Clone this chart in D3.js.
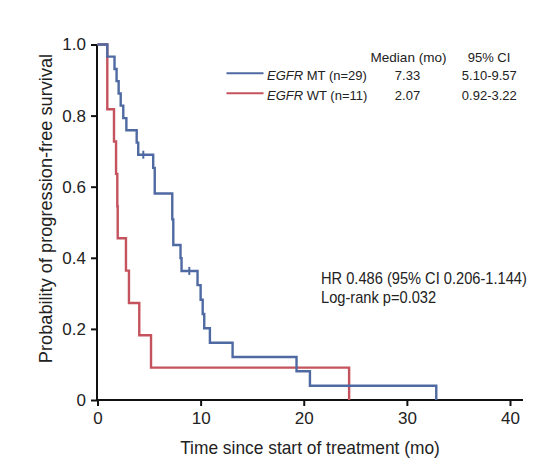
<!DOCTYPE html>
<html><head><meta charset="utf-8">
<script src="https://cdn.jsdelivr.net/npm/d3@7/dist/d3.min.js"></script>
<style>body{margin:0;background:#fff}svg{display:block}text{font-family:"Liberation Sans",Arial,sans-serif;fill:#222}</style>
</head><body><svg id="c" width="551" height="469"></svg>
<script>
// ---- data ----
const mtTimes = [0, 0.95, 1.65, 1.85, 2.05, 2.25, 2.5, 2.8, 3.8, 3.95, 5.4, 5.55, 7.25, 7.35, 8.05, 8.15, 9.7, 10.0, 10.2, 10.35, 10.9, 13.1, 19.3, 20.6, 32.85];
const mtSurv  = [1, 0.966, 0.931, 0.897, 0.862, 0.828, 0.793, 0.759, 0.724, 0.690, 0.653, 0.581, 0.508, 0.436, 0.399, 0.363, 0.323, 0.282, 0.242, 0.202, 0.161, 0.121, 0.081, 0.040, 0];
const mtCensorTimes = [4.44, 8.9];
const mtCensorSurv  = [0.690, 0.363];
const wtTimes = [0, 0.95, 1.6, 1.8, 1.92, 1.96, 2.76, 3.05, 4.05, 5.19, 24.4];
const wtSurv  = [1, 0.818, 0.727, 0.636, 0.545, 0.455, 0.364, 0.273, 0.182, 0.091, 0];
const xTicks = [0, 10, 20, 30, 40];
const yTicks = [0, 0.2, 0.4, 0.6, 0.8, 1.0];
const yTickLabels = ["0", "0.2", "0.4", "0.6", "0.8", "1.0"];
const legendGroups = ["MT (n=29)", "WT (n=11)"];
const legendMedian = ["7.33", "2.07"];
const legendCI = ["5.10-9.57", "0.92-3.22"];
const colors = ["#4f6aa2", "#c4535d"];
const statLines = ["HR 0.486 (95% CI 0.206-1.144)", "Log-rank p=0.032"];

const svg = d3.select("#c");
const x = d3.scaleLinear().domain([0, 40]).range([97.5, 510]);
const y = d3.scaleLinear().domain([0, 1]).range([400, 44.5]);

function txt(g, px, py, s, size, anchor, sx) {
  return g.append("text")
    .attr("transform", `translate(${px},${py}) scale(${sx || 1},1)`)
    .attr("text-anchor", anchor || "start")
    .style("font-size", size + "px")
    .text(s);
}

// axes
const yAxis = svg.append("g").attr("transform", `translate(${x(0) - 0.5},0)`)
  .call(d3.axisLeft(y).tickValues(yTicks).tickFormat((d, i) => yTickLabels[i]).tickSize(6).tickPadding(5));
yAxis.select(".domain").attr("d", `M0,${y(1)}V${y(0)}`).attr("stroke", "#111").attr("stroke-width", 2);
yAxis.selectAll(".tick line").attr("stroke", "#111").attr("stroke-width", 2);
yAxis.selectAll(".tick text").style("font-size", "17px").attr("font-family", "Liberation Sans, Arial, sans-serif").attr("fill", "#222");

const xAxis = svg.append("g").attr("transform", `translate(0,${y(0)})`)
  .call(d3.axisBottom(x).tickValues(xTicks).tickSize(6).tickPadding(6));
xAxis.select(".domain").attr("d", `M${x(0) - 1.5},0H523`).attr("stroke", "#111").attr("stroke-width", 2);
xAxis.selectAll(".tick line").attr("stroke", "#111").attr("stroke-width", 2);
xAxis.selectAll(".tick text").style("font-size", "17px").attr("font-family", "Liberation Sans, Arial, sans-serif").attr("fill", "#222");

// axis titles
txt(svg, 310, 454, "Time since start of treatment (mo)", 18, "middle", 0.965);
svg.append("text").attr("transform", "translate(51.5,208.5) rotate(-90)")
  .attr("text-anchor", "middle").style("font-size", "18.2px")
  .text("Probability of progression-free survival");

// curves
const line = d3.line().x(d => x(d[0])).y(d => y(d[1])).curve(d3.curveStepAfter);
const wtPts = wtTimes.map((t, i) => [t, wtSurv[i]]);
const mtPts = mtTimes.map((t, i) => [t, mtSurv[i]]);
svg.append("path").attr("d", line(wtPts)).attr("fill", "none").attr("stroke", colors[1]).attr("stroke-width", 2.4);
svg.append("path").attr("d", line(mtPts)).attr("fill", "none").attr("stroke", colors[0]).attr("stroke-width", 2.4);
svg.selectAll(".cens").data(mtCensorTimes).enter().append("line")
  .attr("x1", d => x(d)).attr("x2", d => x(d))
  .attr("y1", (d, i) => y(mtCensorSurv[i]) - 4).attr("y2", (d, i) => y(mtCensorSurv[i]) + 4)
  .attr("stroke", colors[0]).attr("stroke-width", 2);

// legend
const lg = svg.append("g");
txt(lg, 408.5, 61.7, "Median (mo)", 13, "middle", 1.04);
txt(lg, 489, 61.7, "95% CI", 13, "middle", 1.0);
legendGroups.forEach((g, i) => {
  const ly = 73.3 + i * 20;
  lg.append("line").attr("x1", 226.5).attr("x2", 263.5).attr("y1", ly).attr("y2", ly)
    .attr("stroke", colors[i]).attr("stroke-width", 2);
  const t = lg.append("text").attr("transform", `translate(267,${ly + 6.5})`).style("font-size", "13px");
  t.append("tspan").style("font-style", "italic").text("EGFR");
  t.append("tspan").text(" " + g);
  txt(lg, 407.5, ly + 6.5, legendMedian[i], 13, "middle");
  txt(lg, 489.3, ly + 6.5, legendCI[i], 13, "middle");
});

// stats
statLines.forEach((s, i) => txt(svg, 321, 283.5 + i * 19.5, s, 16, "start", 0.915));
</script></body></html>
